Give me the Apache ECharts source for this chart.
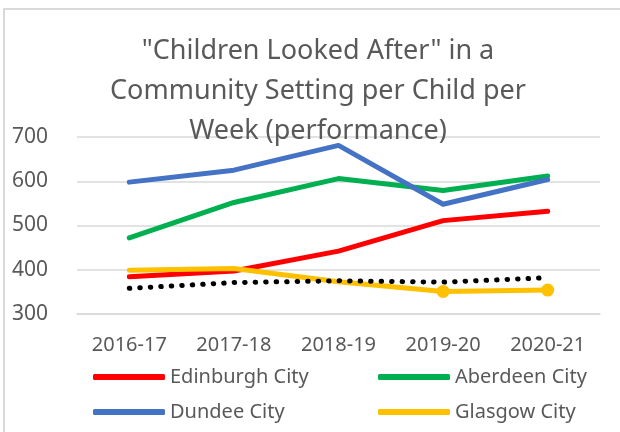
<!DOCTYPE html>
<html>
<head>
<meta charset="utf-8">
<script src="https://cdn.jsdelivr.net/npm/echarts@6/dist/echarts.min.js"></script>
<style>
  html, body { margin: 0; padding: 0; background: #fff; }
  #chart { width: 620px; height: 432px; }
</style>
</head>
<body>
<div id="chart"></div>
<script>
// data
var years = ['2016-17', '2017-18', '2018-19', '2019-20', '2020-21'];
var edinburgh = [384, 397, 442, 511, 532];
var aberdeen = [472, 552, 606, 579, 612];
var dundee = [598, 625, 681, 548, 604];
var glasgow = [399, 403, 373, 351, 354];
var scotland = [358, 371, 375, 372, 382];
var glasgowMarked = [false, false, false, true, true];
var yTicks = { min: 300, max: 700, interval: 100 };

var font = 'Noto Sans';
var grey = '#595959';

function lineSeries(name, data, color) {
  return {
    name: name,
    type: 'line',
    data: data,
    symbol: 'none',
    smooth: false,
    lineStyle: { color: color, width: 5, cap: 'round', join: 'round' },
    itemStyle: { color: color }
  };
}

function legendAt(name, left, top) {
  return {
    data: [name],
    left: left,
    top: top,
    icon: 'roundRect',
    itemWidth: 72,
    itemHeight: 6,
    itemGap: 6,
    textStyle: { color: grey, fontFamily: font, fontSize: 20, lineHeight: 24 }
  };
}

var myChart = echarts.init(document.getElementById('chart'));

var glasgowSeries = lineSeries('Glasgow City', glasgow.map(function (v, i) {
  if (glasgowMarked[i]) {
    return { value: v, symbol: 'circle', symbolSize: 13 };
  }
  return v;
}), '#FFC000');

var option = {
  backgroundColor: '#fff',
  animation: false,
  title: {
    text: '"Children Looked After" in a\nCommunity Setting per Child per\nWeek (performance)',
    left: 313,
    top: 26,
    textAlign: 'center',
    textStyle: { color: grey, fontFamily: font, fontSize: 27, fontWeight: 'normal', lineHeight: 40 }
  },
  legend: [
    legendAt('Edinburgh City', 88, 360),
    legendAt('Aberdeen City', 373, 360),
    legendAt('Dundee City', 88, 395),
    legendAt('Glasgow City', 373, 395)
  ],
  grid: { left: 77, right: 20, top: 137, bottom: 118 },
  xAxis: {
    type: 'category',
    data: years,
    boundaryGap: true,
    axisLine: { show: true, lineStyle: { color: '#d9d9d9', width: 1.5 } },
    axisTick: { show: false },
    axisLabel: { color: grey, fontFamily: font, fontSize: 20, margin: 21 }
  },
  yAxis: {
    type: 'value',
    min: yTicks.min,
    max: yTicks.max,
    interval: yTicks.interval,
    axisLine: { show: false },
    axisTick: { show: false },
    splitLine: { lineStyle: { color: '#d9d9d9', width: 1.5 } },
    axisLabel: { color: grey, fontFamily: font, fontSize: 21, margin: 29 }
  },
  graphic: [
    { type: 'line', shape: { x1: 3, y1: 9, x2: 620, y2: 9 }, style: { stroke: '#d9d9d9', lineWidth: 2 } },
    { type: 'line', shape: { x1: 4, y1: 9, x2: 4, y2: 432 }, style: { stroke: '#d9d9d9', lineWidth: 2 } }
  ],
  series: [
    lineSeries('Edinburgh City', edinburgh, '#FF0000'),
    lineSeries('Aberdeen City', aberdeen, '#00B050'),
    lineSeries('Dundee City', dundee, '#4472C4'),
    glasgowSeries,
    {
      name: 'Scotland',
      type: 'line',
      data: scotland,
      symbol: 'none',
      lineStyle: { color: '#000', width: 5, type: [0.5, 10], cap: 'round' },
      itemStyle: { color: '#000' }
    }
  ]
};
myChart.setOption(option);
</script>
</body>
</html>
